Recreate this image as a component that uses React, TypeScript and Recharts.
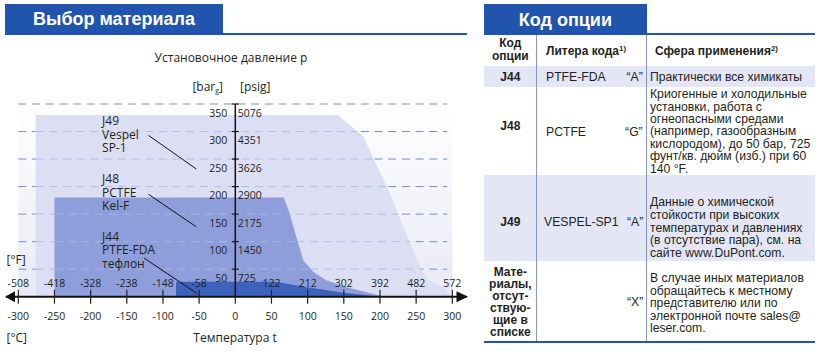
import React from 'react'
import { ComposedChart, Area, XAxis, YAxis, ReferenceLine, ReferenceArea, ReferenceDot } from 'recharts'

// Допустимые области: температура t (°C) -> установочное давление p (bar g)
const j49Envelope = [
  { t: -276, p: 330 }, { t: 142, p: 330 }, { t: 177, p: 291 }, { t: 200, p: 226 },
  { t: 218, p: 175 }, { t: 232, p: 127 }, { t: 246, p: 85 }, { t: 258, p: 48 },
  { t: 267, p: 30 }, { t: 288, p: 17 }, { t: 300, p: 0 },
]
const j48Envelope = [
  { t: -250, p: 180 }, { t: 67, p: 180 }, { t: 75, p: 152 }, { t: 83, p: 115 },
  { t: 94, p: 66 }, { t: 108, p: 45 }, { t: 126, p: 30 }, { t: 154, p: 17 },
  { t: 200, p: 2 }, { t: 205, p: 0 },
]
const j44Envelope = [
  { t: -82, p: 27 }, { t: 55, p: 27 }, { t: 100, p: 17 }, { t: 150, p: 7 }, { t: 200, p: 0 },
]

const celsiusTicks = [-300, -250, -200, -150, -100, -50, 0, 50, 100, 150, 200, 250, 300]
const fahrenheitLabels = ['-508', '-418', '-328', '-238', '-148', '-58', '', '122', '212', '302', '392', '482', '572']
const barTicks = [50, 100, 150, 200, 250, 300, 350]
const psigLabels = ['725', '1450', '2175', '2900', '3626', '4351', '5076']

const j49Note = ['J49', 'Vespel', 'SP-1']
const j48Note = ['J48', 'PCTFE', 'Kel-F']
const j44Note = ['J44', 'PTFE-FDA', 'тефлон']

// таблица
const j48Text = ['Криогенные и холодильные', 'установки, работа с', 'огнеопасными средами', '(например, газообразным', 'кислородом), до 50 бар, 725', 'фунт/кв. дюйм (изб.) при 60', '140 °F.']
const j49Text = ['Данные о химической', 'стойкости при высоких', 'температурах и давлениях', '(в отсутствие пара), см. на', 'сайте www.DuPont.com.']
const otherText = ['В случае иных материалов', 'обращайтесь к местному', 'представителю или по', 'электронной почте sales@', 'leser.com.']
const otherLabel = ['Мате-', 'риалы,', 'отсут-', 'ствую-', 'щие в', 'списке']

const BLUE = '#2155ad'
const ROW_BG = '#e4e6f5'
const RULE = '#8494d6'
const INK = '#231f20'

const series: Record<string, { t: number; p: number }[]> = { j49: j49Envelope, j48: j48Envelope, j44: j44Envelope }
const chartData = Array.from(new Set(Object.values(series).flatMap(s => s.map(d => d.t))))
  .sort((a, b) => a - b)
  .map(t => {
    const row: any = { t }
    Object.entries(series).forEach(([k, s]) => {
      const f = s.find(d => d.t === t)
      if (f) row[k] = f.p
    })
    return row
  })

// where the falling right side of an envelope crosses pressure p
const rightEdge = (env: { t: number; p: number }[], p: number) => {
  for (let i = 1; i < env.length; i++) {
    const a = env[i - 1], b = env[i]
    if (a.p >= p && b.p < p) return a.t + (b.t - a.t) * (a.p - p) / (a.p - b.p)
  }
  return env[env.length - 1].t
}

const CTick = (props: any) => {
  const { x, y, payload } = props
  const i = celsiusTicks.indexOf(payload.value)
  return (
    <g>
      <line x1={x} x2={x} y1={y - 7} y2={y + 7} stroke="#222" strokeWidth={1.2} />
      {fahrenheitLabels[i] && (
        <text x={x} y={y - 9.7} textAnchor="middle" fontSize={10.5} fill={INK}>{fahrenheitLabels[i]}</text>
      )}
      <text x={x} y={y + 23.7} textAnchor="middle" fontSize={10.5} fill={INK}>{payload.value}</text>
    </g>
  )
}

const noteShape = (lines: string[]) => (p: any) => (
  <text x={p.cx} y={p.cy} fontSize={12} fill={INK}>
    {lines.map((l, i) => (
      <tspan key={i} x={p.cx} dy={i === 0 ? 0 : 13.6}>{l}</tspan>
    ))}
  </text>
)

function MaterialChart() {
  const dash = '8 5.7'
  return (
    <div style={{ position: 'absolute', left: 0, top: 0, width: 470, height: 351, fontFamily: '"Open Sans", sans-serif', color: INK }}>
      <ComposedChart width={470} height={351} data={chartData} margin={{ top: 104, right: 17.7, left: 18.3, bottom: 14.3 }}>
        <defs>
          <linearGradient id="plotBg" x1="0" y1="0" x2="0" y2="1">
            <stop offset="0%" stopColor="#ffffff" />
            <stop offset="100%" stopColor="#e8e9f5" />
          </linearGradient>
        </defs>
        <YAxis type="number" domain={[0, 350]} hide allowDataOverflow />
        <ReferenceArea x1={-300} x2={300} y1={0} y2={350} fill="url(#plotBg)" fillOpacity={1} stroke="none" zIndex={10} />
        {barTicks.map(v => (
          <ReferenceLine key={'d' + v} segment={[{ x: -300, y: v }, { x: 293, y: v }]} stroke="#7a8ad0" strokeWidth={1} strokeDasharray={dash} zIndex={20} />
        ))}
        <Area dataKey="j49" type="linear" fill="#dcdff3" fillOpacity={1} stroke="none" connectNulls isAnimationActive={false} zIndex={30} />
        {barTicks.filter(v => v <= j49Envelope[0].p).map(v => (
          <ReferenceLine key={'m' + v} segment={[{ x: j49Envelope[0].t, y: v }, { x: rightEdge(j49Envelope, v), y: v }]} stroke="#b5bde6" strokeWidth={1} strokeDasharray={dash} zIndex={40} />
        ))}
        <Area dataKey="j48" type="linear" fill="#8e9edb" fillOpacity={1} stroke="none" connectNulls isAnimationActive={false} zIndex={50} />
        {barTicks.filter(v => v <= j48Envelope[0].p).map(v => (
          <ReferenceLine key={'l' + v} segment={[{ x: j48Envelope[0].t, y: v }, { x: rightEdge(j48Envelope, v), y: v }]} stroke="#a8b3e4" strokeWidth={1} strokeDasharray={dash} zIndex={60} />
        ))}
        <Area dataKey="j44" type="linear" fill="#3d62bb" fillOpacity={1} stroke="none" connectNulls isAnimationActive={false} zIndex={70} />

        {/* выноски */}
        <ReferenceLine segment={[{ x: -120, y: 293 }, { x: -54, y: 232 }]} stroke="#111" strokeWidth={1} zIndex={700} />
        <ReferenceLine segment={[{ x: -120, y: 186 }, { x: -54, y: 127 }]} stroke="#111" strokeWidth={1} zIndex={700} />
        <ReferenceLine segment={[{ x: -126, y: 70 }, { x: -53, y: 6 }]} stroke="#111" strokeWidth={1} zIndex={700} />
        <ReferenceDot x={-184.2} y={312} r={0} ifOverflow="visible" shape={noteShape(j49Note)} zIndex={700} />
        <ReferenceDot x={-184.2} y={206.5} r={0} ifOverflow="visible" shape={noteShape(j48Note)} zIndex={700} />
        <ReferenceDot x={-184.2} y={102} r={0} ifOverflow="visible" shape={noteShape(j44Note)} zIndex={700} />

        {/* ось давления */}
        <ReferenceLine x={0} stroke="#111" strokeWidth={1.5} zIndex={700} />
        {barTicks.map((v, i) => (
          <ReferenceDot key={'y' + v} x={0} y={v} r={0} ifOverflow="visible" zIndex={700}
            shape={(p: any) => (
              <g>
                <line x1={p.cx - 3.5} x2={p.cx + 3.5} y1={p.cy} y2={p.cy} stroke="#111" strokeWidth={1.2} />
                <text x={p.cx - 8} y={p.cy + 12.5} textAnchor="end" fontSize={10.5} fill={INK}>{v}</text>
                <text x={p.cx + 2.5} y={p.cy + 12.5} fontSize={10.5} fill={INK}>{psigLabels[i]}</text>
              </g>
            )} />
        ))}

        {/* ось температуры со стрелками */}
        <ReferenceLine segment={[{ x: -317, y: 0 }, { x: 320, y: 0 }]} ifOverflow="visible" stroke="#111" strokeWidth={2} zIndex={700} />
        <ReferenceDot x={-318.4} y={0} r={0} ifOverflow="visible" zIndex={700}
          shape={(p: any) => <polygon points={`${p.cx},${p.cy} ${p.cx + 10},${p.cy - 5.5} ${p.cx + 10},${p.cy + 5.5}`} fill="#111" />} />
        <ReferenceDot x={321.7} y={0} r={0} ifOverflow="visible" zIndex={700}
          shape={(p: any) => <polygon points={`${p.cx},${p.cy} ${p.cx - 11.5},${p.cy - 5.5} ${p.cx - 11.5},${p.cy + 5.5}`} fill="#111" />} />
        <XAxis type="number" dataKey="t" domain={[-300, 300]} ticks={celsiusTicks} interval={0} allowDataOverflow
          axisLine={false} tickLine={false} tickSize={0} tickMargin={0} height={40} tick={CTick} />
      </ComposedChart>

      <div style={{ position: 'absolute', left: 0, width: 462, top: 50, lineHeight: '16px', fontSize: 12, textAlign: 'center', whiteSpace: 'nowrap' }}>
        Установочное давление р
      </div>
      <div style={{ position: 'absolute', left: 150, width: 73, top: 79, lineHeight: '16px', fontSize: 12, textAlign: 'right', whiteSpace: 'nowrap' }}>
        [bar<span style={{ fontSize: 7, position: 'relative', top: 2 }}>g</span>]
      </div>
      <div style={{ position: 'absolute', left: 240, top: 79, lineHeight: '16px', fontSize: 12, whiteSpace: 'nowrap' }}>[psig]</div>
      <div style={{ position: 'absolute', left: 6.5, top: 252, lineHeight: '16px', fontSize: 12, whiteSpace: 'nowrap' }}>[°F]</div>
      <div style={{ position: 'absolute', left: 6.5, top: 330, lineHeight: '16px', fontSize: 12, whiteSpace: 'nowrap' }}>[°C]</div>
      <div style={{ position: 'absolute', left: 135, width: 200, top: 329.5, lineHeight: '16px', fontSize: 12, textAlign: 'center' }}>Температура t</div>
    </div>
  )
}

function T({ lines, left, width, center, lh = 14, align = 'left', bold = false, size = 12.2, color = INK }: {
  lines: React.ReactNode[]; left: number; width?: number; center: number; lh?: number
  align?: 'left' | 'right' | 'center'; bold?: boolean; size?: number; color?: string
}) {
  return (
    <div style={{ position: 'absolute', left, width, top: center - lh / 2, lineHeight: `${lh}px`, fontSize: size, fontWeight: bold ? 700 : 400, textAlign: align, whiteSpace: 'nowrap', color }}>
      {lines.map((l, i) => <div key={i}>{l}</div>)}
    </div>
  )
}

const Sup = ({ children }: { children: React.ReactNode }) => (
  <span style={{ fontSize: 8, position: 'relative', top: -4 }}>{children}</span>
)

export default function App() {
  const c1 = 484, c2 = 536.7, c3 = 646.7, cEnd = 815
  return (
    <div style={{ position: 'absolute', left: 0, top: 0, width: 819, height: 351, background: '#fff', overflow: 'hidden', fontFamily: '"Liberation Sans", Arial, sans-serif', color: INK }}>
      <MaterialChart />

      {/* заголовки */}
      <div style={{ position: 'absolute', left: 5, top: 4, width: 218, height: 30, background: BLUE }} />
      <T lines={['Выбор материала']} left={5} width={218} center={19.3} lh={22} size={18} bold align="center" color="#fff" />
      <div style={{ position: 'absolute', left: 5, top: 33, width: 462, height: 2, background: BLUE }} />

      <div style={{ position: 'absolute', left: c1, top: 4, width: c3 - c1, height: 30, background: BLUE }} />
      <T lines={['Код опции']} left={c1} width={c3 - c1} center={20} lh={22} size={18} bold align="center" color="#fff" />

      {/* таблица */}
      <div style={{ position: 'absolute', left: c1, top: 65.5, width: cEnd - c1, height: 21.8, background: ROW_BG }} />
      <div style={{ position: 'absolute', left: c1, top: 175, width: cEnd - c1, height: 86, background: ROW_BG }} />
      <div style={{ position: 'absolute', left: c1, top: 33, width: cEnd - c1, height: 2, background: BLUE }} />
      <div style={{ position: 'absolute', left: c1, top: 340.5, width: cEnd - c1, height: 2, background: BLUE }} />
      <div style={{ position: 'absolute', left: c2 - 0.5, top: 35, width: 1, height: 305.5, background: RULE }} />
      <div style={{ position: 'absolute', left: c3 - 0.5, top: 35, width: 1, height: 305.5, background: RULE }} />

      <T lines={['Код', 'опции']} left={c1} width={c2 - c1} center={43.3} lh={13.4} bold size={12} align="center" />
      <T lines={[<>Литера кода<Sup>1)</Sup></>]} left={546} center={50.7} bold size={12} />
      <T lines={[<>Сфера применения<Sup>2)</Sup></>]} left={655} center={50.7} bold size={12} />

      <T lines={['J44']} left={c1} width={c2 - c1} center={77} bold size={12} align="center" />
      <T lines={['PTFE-FDA']} left={546} center={76.8} />
      <T lines={['“A”']} left={560} width={82.7} center={76.8} align="right" />
      <T lines={['Практически все химикаты']} left={650} center={76.8} />

      <T lines={['J48']} left={c1} width={c2 - c1} center={126} bold size={12} align="center" />
      <T lines={['PCTFE']} left={546} center={131.7} />
      <T lines={['“G”']} left={560} width={82.7} center={131.7} align="right" />
      <T lines={j48Text} left={650} center={94.3} lh={12.4} />

      <T lines={['J49']} left={c1} width={c2 - c1} center={222.3} bold size={12} align="center" />
      <T lines={['VESPEL-SP1']} left={544} center={222.3} />
      <T lines={['“A”']} left={560} width={83.3} center={222.3} align="right" />
      <T lines={j49Text} left={650} center={202.7} lh={12.6} />

      <T lines={otherLabel} left={c1} width={c2 - c1} center={271.7} lh={12.1} bold size={12} align="center" />
      <T lines={['“X”']} left={560} width={83.3} center={301.7} align="right" />
      <T lines={otherText} left={650} center={278.3} lh={12.5} />
    </div>
  )
}
